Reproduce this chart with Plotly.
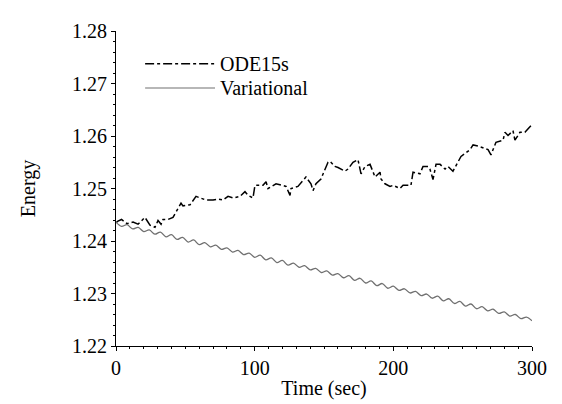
import plotly.graph_objects as go

# ODE15s energy
ode_t = [0, 1.4, 4, 8, 12.3, 15.9, 20.9, 24.5, 28.1, 30.3, 32.5, 33.9, 37.5, 41.1, 46.9, 48.3,
         53.4, 55.5, 57.7, 64.9, 70.0, 73.6, 77.2, 80.8, 84.4, 89.4, 93.0, 95.2, 98.8, 100.2,
         106.0, 108.2, 109.6, 115.4, 119.0, 122.6, 125.5, 126.2, 131.2, 134.9, 137.0, 140.6,
         142.1, 144.2, 147.8, 152.9, 154.3, 157.9, 160.1, 165.1, 167.3, 170.9, 174.5, 176.7,
         179.6, 183.2, 185.3, 186.8, 190.4, 191.1, 194.0, 197.6, 199.8, 204.8, 207.0, 212.7,
         214.2, 219.2, 221.4, 225.0, 226.4, 228.6, 230.8, 233.7, 237.3, 239.4, 243.0, 248.1,
         248.8, 255.3, 257.5, 261.1, 264.7, 268.3, 270.4, 274.0, 279.1, 280.5, 282.7, 286.3,
         287.7, 291.3, 294.9, 297.1, 299.3, 300]
ode_e = [1.2435, 1.2438, 1.2441, 1.2433, 1.2436, 1.2432, 1.2445, 1.2430, 1.2426, 1.2439, 1.2432,
         1.2441, 1.2441, 1.2445, 1.2472, 1.2467, 1.2469, 1.2478, 1.2485, 1.2478, 1.2478, 1.2480,
         1.2478, 1.2485, 1.2482, 1.2485, 1.2494, 1.2487, 1.2482, 1.2506, 1.2506, 1.2513, 1.2500,
         1.2509, 1.2506, 1.2504, 1.2487, 1.2500, 1.2504, 1.2515, 1.2522, 1.2509, 1.2496, 1.2509,
         1.2518, 1.2550, 1.2552, 1.2542, 1.2540, 1.2533, 1.2537, 1.2550, 1.2555, 1.2528, 1.2542,
         1.2546, 1.2533, 1.2522, 1.2531, 1.2518, 1.2509, 1.2504, 1.2506, 1.2500, 1.2506, 1.2506,
         1.2531, 1.2528, 1.2542, 1.2542, 1.2537, 1.2517, 1.2546, 1.2546, 1.2537, 1.2542, 1.2533,
         1.2559, 1.2561, 1.2574, 1.2583, 1.2581, 1.2577, 1.2574, 1.2564, 1.2588, 1.2592, 1.2607,
         1.2601, 1.2610, 1.2592, 1.2607, 1.2607, 1.2614, 1.2620, 1.2622]

# Variational energy (peaks and troughs)
var_t = [0, 4, 8, 12, 16, 20, 24, 28, 32, 36, 40, 44, 48, 52, 56, 60, 64, 68, 72, 76, 80, 84,
         88, 92, 96, 100, 104, 108, 112, 116, 120, 124, 128, 132, 136, 140, 144, 148, 152, 156,
         160, 164, 168, 172, 176, 180, 184, 188, 192, 196, 200, 204, 208, 212, 216, 220, 224,
         228, 232, 236, 240, 244, 248, 252, 256, 260, 264, 268, 272, 276, 280, 284, 288, 292,
         296, 300]
var_e = [1.2436, 1.2428, 1.2431, 1.2423, 1.2426, 1.2418, 1.2421, 1.2413, 1.2417, 1.2408, 1.2412,
         1.2403, 1.2407, 1.2398, 1.2402, 1.2393, 1.2397, 1.2389, 1.2392, 1.2384, 1.2387, 1.2379,
         1.2382, 1.2374, 1.2377, 1.2369, 1.2373, 1.2364, 1.2368, 1.2359, 1.2363, 1.2354, 1.2358,
         1.2350, 1.2353, 1.2345, 1.2348, 1.2340, 1.2343, 1.2335, 1.2338, 1.2330, 1.2334, 1.2325,
         1.2329, 1.2320, 1.2324, 1.2315, 1.2319, 1.2310, 1.2314, 1.2306, 1.2309, 1.2301, 1.2304,
         1.2296, 1.2299, 1.2291, 1.2295, 1.2286, 1.2290, 1.2281, 1.2285, 1.2276, 1.2280, 1.2271,
         1.2275, 1.2267, 1.2270, 1.2262, 1.2265, 1.2257, 1.2260, 1.2252, 1.2255, 1.2248]

x_ticks = [0, 100, 200, 300]
y_ticks = [1.22, 1.23, 1.24, 1.25, 1.26, 1.27, 1.28]
series_names = ["ODE15s", "Variational"]

FONT = "Liberation Serif, Times New Roman, serif"
FS = 20

fig = go.Figure()
fig.add_trace(go.Scatter(x=ode_t, y=ode_e, mode="lines", name=series_names[0],
                         line=dict(color="black", width=1.5, dash="dashdot"), showlegend=False))
fig.add_trace(go.Scatter(x=var_t, y=var_e, mode="lines", name=series_names[1],
                         line=dict(color="#707070", width=1.3, shape="spline"), showlegend=False))

# manual legend
leg_y = [0.896, 0.819]
styles = [dict(color="black", width=1.5, dash="dashdot"), dict(color="#707070", width=1.2)]
for name, yy, st in zip(series_names, leg_y, styles):
    fig.add_shape(type="line", xref="paper", yref="paper", x0=0.07, x1=0.238, y0=yy, y1=yy, line=st)
    fig.add_annotation(xref="paper", yref="paper", x=0.245, y=yy, text=name, showarrow=False,
                       xanchor="left", yanchor="middle", font=dict(family=FONT, size=FS, color="black"))

axis_common = dict(showgrid=False, zeroline=False, showline=True, linecolor="black", linewidth=1.2,
                   ticks="outside", ticklen=4, tickcolor="black",
                   tickfont=dict(family=FONT, size=FS, color="black"))

fig.update_layout(
    width=562, height=404,
    margin=dict(l=108, r=38, t=12, b=66),
    paper_bgcolor="white", plot_bgcolor="white",
    font=dict(family=FONT, size=FS, color="black"),
    xaxis=dict(range=[0, 300], tickvals=x_ticks, ticktext=[str(v) for v in x_ticks],
               title=dict(text="Time (sec)", font=dict(family=FONT, size=FS), standoff=2),
               minor=dict(dtick=10, ticklen=2, ticks="outside", tickcolor="black"),
               **axis_common),
    yaxis=dict(range=[1.22, 1.28], tickvals=y_ticks, ticktext=[f"{v:.2f}" for v in y_ticks],
               title=dict(text="Energy", font=dict(family=FONT, size=FS), standoff=30),
               minor=dict(dtick=0.002, ticklen=2, ticks="outside", tickcolor="black"),
               **axis_common),
)

fig.write_html("out.html")
